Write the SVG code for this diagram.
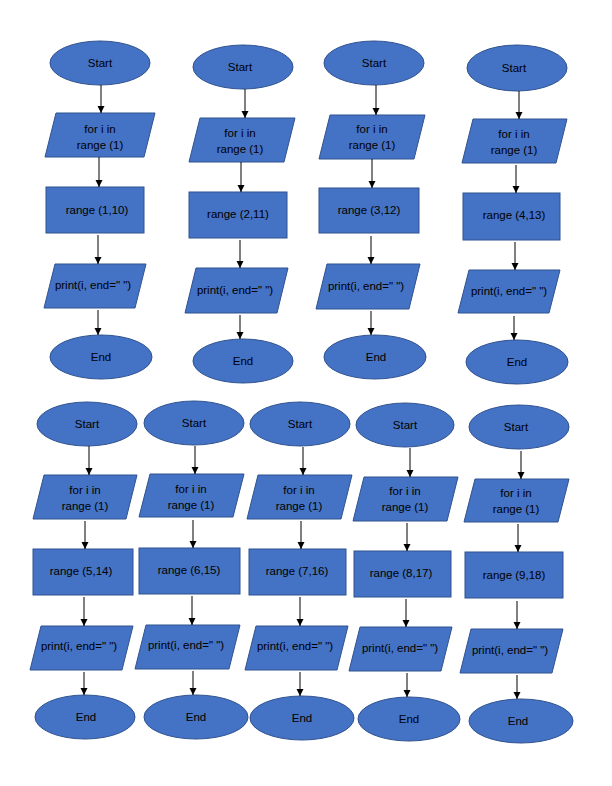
<svg xmlns="http://www.w3.org/2000/svg" width="612" height="786" viewBox="0 0 612 786">
<defs>
<marker id="ah" markerWidth="8" markerHeight="8" refX="7" refY="4" orient="auto" markerUnits="userSpaceOnUse">
<path d="M0,0.5 L7,4 L0,7.5 Z" fill="#000"/>
</marker>
<style>
.s{fill:#4472C4;stroke:#2F528F;stroke-width:1}
.t{font-family:"Liberation Sans",Arial,sans-serif;font-size:11.5px;fill:#000;text-anchor:middle}
.c{stroke:#000;stroke-width:1;fill:none;marker-end:url(#ah)}
</style>
</defs>
<rect width="612" height="786" fill="#fff"/>

<!-- Chart 1 -->
<g id="c1-start"><ellipse class="s" cx="100" cy="63" rx="50" ry="22"/><text class="t" x="100" y="67">Start</text></g>
<g id="c1-for"><path class="s" d="M56,113 L155,113 L144,157 L45,157 Z"/><text class="t" x="100" y="133">for i in</text><text class="t" x="100" y="149">range (1)</text></g>
<g id="c1-range"><rect class="s" x="46" y="187" width="98" height="46"/><text class="t" x="97" y="214">range (1,10)</text></g>
<g id="c1-print"><path class="s" d="M55,264 L146,264 L135,308 L44,308 Z"/><text class="t" x="93" y="289">print(i, end=" ")</text></g>
<g id="c1-end"><ellipse class="s" cx="101" cy="357" rx="51" ry="22"/><text class="t" x="101" y="361">End</text></g>

<!-- Chart 2 -->
<g id="c2-start"><ellipse class="s" cx="243" cy="67" rx="50" ry="22"/><text class="t" x="240" y="71">Start</text></g>
<g id="c2-for"><path class="s" d="M200,118 L295,118 L284,162 L189,162 Z"/><text class="t" x="240" y="137">for i in</text><text class="t" x="240" y="153">range (1)</text></g>
<g id="c2-range"><rect class="s" x="189" y="192" width="98" height="46"/><text class="t" x="238" y="218">range (2,11)</text></g>
<g id="c2-print"><path class="s" d="M196,268 L288,268 L277,313 L185,313 Z"/><text class="t" x="235" y="294">print(i, end=" ")</text></g>
<g id="c2-end"><ellipse class="s" cx="243" cy="361" rx="50" ry="22"/><text class="t" x="243" y="365">End</text></g>

<!-- Chart 3 -->
<g id="c3-start"><ellipse class="s" cx="374" cy="63" rx="50" ry="22"/><text class="t" x="374" y="67">Start</text></g>
<g id="c3-for"><path class="s" d="M330,115 L425,115 L414,159 L319,159 Z"/><text class="t" x="372" y="133">for i in</text><text class="t" x="372" y="149">range (1)</text></g>
<g id="c3-range"><rect class="s" x="319" y="188" width="100" height="45"/><text class="t" x="369" y="214">range (3,12)</text></g>
<g id="c3-print"><path class="s" d="M327,264 L420,264 L409,309 L316,309 Z"/><text class="t" x="366" y="290">print(i, end=" ")</text></g>
<g id="c3-end"><ellipse class="s" cx="375" cy="357" rx="51" ry="22"/><text class="t" x="376" y="361">End</text></g>

<!-- Chart 4 -->
<g id="c4-start"><ellipse class="s" cx="517" cy="68" rx="50" ry="23"/><text class="t" x="514" y="72">Start</text></g>
<g id="c4-for"><path class="s" d="M473,119 L567,119 L556,163 L462,163 Z"/><text class="t" x="514" y="138">for i in</text><text class="t" x="514" y="154">range (1)</text></g>
<g id="c4-range"><rect class="s" x="463" y="193" width="97" height="47"/><text class="t" x="514" y="219">range (4,13)</text></g>
<g id="c4-print"><path class="s" d="M469,270 L560,270 L549,313 L458,313 Z"/><text class="t" x="509" y="295">print(i, end=" ")</text></g>
<g id="c4-end"><ellipse class="s" cx="517" cy="362" rx="51" ry="22"/><text class="t" x="517" y="366">End</text></g>

<!-- Chart 5 -->
<g id="c5-start"><ellipse class="s" cx="87" cy="424" rx="50" ry="22"/><text class="t" x="87" y="428">Start</text></g>
<g id="c5-for"><path class="s" d="M44,475 L137,475 L126,519 L33,519 Z"/><text class="t" x="85" y="494">for i in</text><text class="t" x="85" y="510">range (1)</text></g>
<g id="c5-range"><rect class="s" x="33" y="549" width="100" height="46"/><text class="t" x="81" y="575">range (5,14)</text></g>
<g id="c5-print"><path class="s" d="M41,626 L133,626 L122,670 L30,670 Z"/><text class="t" x="79" y="650">print(i, end=" ")</text></g>
<g id="c5-end"><ellipse class="s" cx="85" cy="717" rx="50" ry="22"/><text class="t" x="86" y="721">End</text></g>

<!-- Chart 6 -->
<g id="c6-start"><ellipse class="s" cx="194" cy="423" rx="50" ry="22"/><text class="t" x="194" y="427">Start</text></g>
<g id="c6-for"><path class="s" d="M150,474 L244,474 L233,517 L139,517 Z"/><text class="t" x="191" y="493">for i in</text><text class="t" x="191" y="509">range (1)</text></g>
<g id="c6-range"><rect class="s" x="139" y="548" width="101" height="46"/><text class="t" x="189" y="574">range (6,15)</text></g>
<g id="c6-print"><path class="s" d="M146,625 L240,625 L229,669 L135,669 Z"/><text class="t" x="186" y="649">print(i, end=" ")</text></g>
<g id="c6-end"><ellipse class="s" cx="196" cy="717" rx="52" ry="22"/><text class="t" x="196" y="721">End</text></g>

<!-- Chart 7 -->
<g id="c7-start"><ellipse class="s" cx="300" cy="424" rx="50" ry="22"/><text class="t" x="300" y="428">Start</text></g>
<g id="c7-for"><path class="s" d="M258,475 L352,475 L341,519 L247,519 Z"/><text class="t" x="299" y="494">for i in</text><text class="t" x="299" y="510">range (1)</text></g>
<g id="c7-range"><rect class="s" x="249" y="549" width="97" height="46"/><text class="t" x="297" y="575">range (7,16)</text></g>
<g id="c7-print"><path class="s" d="M256,626 L348,626 L337,670 L245,670 Z"/><text class="t" x="295" y="650">print(i, end=" ")</text></g>
<g id="c7-end"><ellipse class="s" cx="302" cy="718" rx="52" ry="22"/><text class="t" x="302" y="722">End</text></g>

<!-- Chart 8 -->
<g id="c8-start"><ellipse class="s" cx="405" cy="425" rx="49" ry="22"/><text class="t" x="405" y="429">Start</text></g>
<g id="c8-for"><path class="s" d="M364,477 L458,477 L447,521 L353,521 Z"/><text class="t" x="405" y="495">for i in</text><text class="t" x="405" y="511">range (1)</text></g>
<g id="c8-range"><rect class="s" x="354" y="551" width="97" height="46"/><text class="t" x="401" y="577">range (8,17)</text></g>
<g id="c8-print"><path class="s" d="M360,627 L452,627 L441,671 L349,671 Z"/><text class="t" x="400" y="652">print(i, end=" ")</text></g>
<g id="c8-end"><ellipse class="s" cx="409" cy="719" rx="51" ry="22"/><text class="t" x="409" y="723">End</text></g>

<!-- Chart 9 -->
<g id="c9-start"><ellipse class="s" cx="519" cy="427" rx="50" ry="22"/><text class="t" x="516" y="431">Start</text></g>
<g id="c9-for"><path class="s" d="M475,479 L569,479 L558,522 L464,522 Z"/><text class="t" x="516" y="497">for i in</text><text class="t" x="516" y="513">range (1)</text></g>
<g id="c9-range"><rect class="s" x="465" y="552" width="98" height="46"/><text class="t" x="514" y="579">range (9,18)</text></g>
<g id="c9-print"><path class="s" d="M471,629 L563,629 L552,673 L460,673 Z"/><text class="t" x="510" y="654">print(i, end=" ")</text></g>
<g id="c9-end"><ellipse class="s" cx="521" cy="721" rx="52" ry="22"/><text class="t" x="518" y="725">End</text></g>

<g id="connectors">
<line class="c" x1="101" y1="85" x2="101" y2="113"/>
<line class="c" x1="99" y1="157" x2="99" y2="187"/>
<line class="c" x1="98" y1="235" x2="98" y2="264"/>
<line class="c" x1="98" y1="310" x2="98" y2="335"/>

<line class="c" x1="245" y1="89" x2="245" y2="118"/>
<line class="c" x1="241" y1="162" x2="241" y2="192"/>
<line class="c" x1="240" y1="240" x2="240" y2="268"/>
<line class="c" x1="240" y1="315" x2="240" y2="339"/>

<line class="c" x1="376" y1="85" x2="376" y2="115"/>
<line class="c" x1="372" y1="159" x2="372" y2="188"/>
<line class="c" x1="371" y1="236" x2="371" y2="264"/>
<line class="c" x1="371" y1="311" x2="371" y2="335"/>

<line class="c" x1="519" y1="91" x2="519" y2="119"/>
<line class="c" x1="516" y1="165" x2="516" y2="193"/>
<line class="c" x1="515" y1="242" x2="515" y2="270"/>
<line class="c" x1="514" y1="316" x2="514" y2="340"/>

<line class="c" x1="89" y1="446" x2="89" y2="475"/>
<line class="c" x1="85" y1="521" x2="85" y2="549"/>
<line class="c" x1="84" y1="597" x2="84" y2="626"/>
<line class="c" x1="84" y1="672" x2="84" y2="695"/>

<line class="c" x1="195" y1="446" x2="195" y2="474"/>
<line class="c" x1="193" y1="520" x2="193" y2="548"/>
<line class="c" x1="192" y1="596" x2="192" y2="625"/>
<line class="c" x1="193" y1="671" x2="193" y2="695"/>

<line class="c" x1="303" y1="447" x2="303" y2="475"/>
<line class="c" x1="301" y1="521" x2="301" y2="549"/>
<line class="c" x1="300" y1="597" x2="300" y2="626"/>
<line class="c" x1="300" y1="672" x2="300" y2="696"/>

<line class="c" x1="410" y1="448" x2="410" y2="477"/>
<line class="c" x1="407" y1="523" x2="407" y2="551"/>
<line class="c" x1="406" y1="599" x2="406" y2="627"/>
<line class="c" x1="407" y1="673" x2="407" y2="697"/>

<line class="c" x1="521" y1="451" x2="521" y2="479"/>
<line class="c" x1="518" y1="524" x2="518" y2="552"/>
<line class="c" x1="517" y1="601" x2="517" y2="629"/>
<line class="c" x1="517" y1="675" x2="517" y2="699"/>
</g>
</svg>
